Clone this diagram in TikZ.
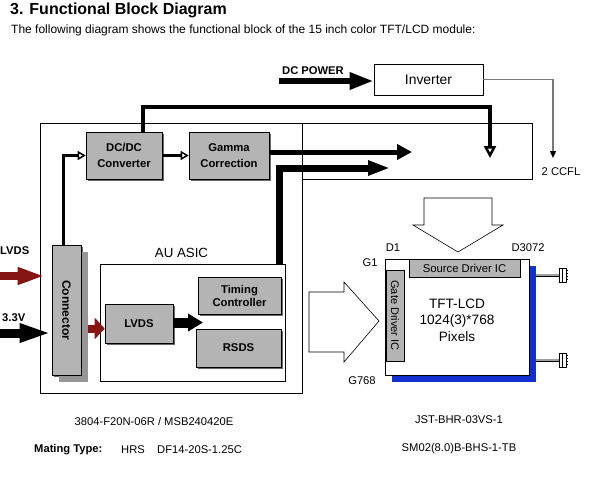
\documentclass[tikz,border=0pt]{standalone}
\usepackage{fontspec}
\setmainfont{Liberation Sans}
\usetikzlibrary{arrows.meta,shadows}
\usepackage{xcolor}
\definecolor{boxgray}{RGB}{180,180,180}
\definecolor{shadegray}{RGB}{105,105,105}
\definecolor{connshade}{RGB}{150,150,150}
\definecolor{lvdsred}{RGB}{135,20,20}
\definecolor{panelblue}{RGB}{18,48,205}
\definecolor{wiregray}{RGB}{120,120,120}

\begin{document}
\begin{tikzpicture}[x=1pt,y=-1pt,
  block/.style={draw=black,fill=boxgray,line width=0.6pt,inner sep=0pt,align=center,
    font=\fontsize{11.3}{16}\selectfont\bfseries,
    drop shadow={shadow xshift=2pt,shadow yshift=-2pt,fill=shadegray,opacity=1}},
  label11/.style={inner sep=0pt,font=\fontsize{11.2}{13}\selectfont},
  bold11/.style={inner sep=0pt,font=\fontsize{11.2}{13}\selectfont\bfseries}]
\useasboundingbox (0,0) rectangle (596,480);

% title
\node[anchor=base west,inner sep=0pt,font=\fontsize{16}{18}\selectfont\bfseries] (title) at (10,14) {3. Functional Block Diagram};
\node[anchor=base west,inner sep=0pt,font=\fontsize{12}{14}\selectfont] (subtitle) at (11,33) {The following diagram shows the functional block of the 15 inch color TFT/LCD module:};

% board and lamp frame
\node[draw,line width=0.6pt,minimum width=262pt,minimum height=270pt,inner sep=0pt] (board) at (171,258) {};
\draw[line width=0.6pt] (302,123) -- (532,123) -- (532,179) -- (302,179);
\coordinate (lampA) at (412,152);
\coordinate (lampB) at (390,168);
\coordinate (lampC) at (490,158);
\coordinate (ccfl) at (553,158);
\node[label11] (ccfltext) at (561,172) {2 CCFL};

% inverter
\node[draw,line width=0.6pt,minimum width=109pt,minimum height=31pt,inner sep=0pt,font=\fontsize{13.9}{16}\selectfont] (inv) at (428.5,79.5) {Inverter};
\coordinate (dcin) at (279,81);
\node[bold11,anchor=west] (dctext) at (282,71) {DC POWER};
\draw[line width=6pt,-{Triangle[length=24pt,width=16pt]}] (dcin) -- (dcin -| inv.west);
\draw[wiregray,line width=1.2pt,-{Triangle[length=7pt,width=6pt,color=black]}] (inv.east) -| (ccfl);

% blocks
\node[block,minimum width=76pt,minimum height=47pt] (dcdc) at (124,155.5) {DC/DC\\Converter};
\node[block,minimum width=80pt,minimum height=47pt] (gamma) at (229,155.5) {Gamma\\Correction};
\node[block,rotate=-90,minimum width=130pt,minimum height=29pt,font=\fontsize{12}{14}\selectfont\bfseries,
  drop shadow={shadow xshift=7pt,shadow yshift=-7pt,fill=connshade,opacity=1}] (conn) at (66.5,310) {Connector};
\node[draw,line width=0.6pt,fill=white,minimum width=185pt,minimum height=117pt,inner sep=0pt] (asic) at (192.5,322.5) {};
\node[inner sep=0pt,font=\fontsize{13.3}{15}\selectfont] (asictext) at (181.5,253) {AU ASIC};
\node[block,minimum width=68pt,minimum height=39pt] (lvdsbox) at (139,323.5) {LVDS};
\node[block,minimum width=83pt,minimum height=37pt,font=\fontsize{11.3}{13}\selectfont\bfseries] (timing) at (239.5,295.5) {Timing\\Controller};
\node[block,minimum width=85pt,minimum height=38pt] (rsds) at (238.5,348) {RSDS};

% power and data paths
\draw[line width=4pt,-{Triangle[open,length=12pt,width=12pt,line width=2.5pt]}] ([xshift=19pt]dcdc.north) -- ++(0,-25) -| (lampC);
\draw[line width=3pt,-{Triangle[open,length=8pt,width=9pt,line width=1.5pt]}] (dcdc.east) -- (gamma.west);
\draw[line width=3pt,-{Triangle[open,length=8pt,width=9pt,line width=1.5pt]}] ([xshift=-3.5pt]conn.west) |- (dcdc.west);
\draw[line width=5pt,-{Triangle[length=15pt,width=15pt]}] (gamma.east |- lampA) -- (lampA);
\draw[line width=7pt,-{Triangle[length=22pt,width=14pt]}] ([xshift=-6pt]asic.north east) |- (lampB);

% inputs
\coordinate (lvdsin) at (0,276);
\coordinate (pwrin) at (0,333);
\coordinate (redstart) at (88,328.5);
\coordinate (split) at (203,322.5);
\node[bold11,anchor=west] (lvdstext) at (0,251) {LVDS};
\node[bold11,anchor=west] (pwrtext) at (2,318) {3.3V};
\draw[lvdsred,line width=8pt,-{Triangle[length=27pt,width=16pt]}] (lvdsin) -- ([xshift=-7pt]lvdsin -| conn.south);
\draw[line width=9pt,-{Triangle[length=32pt,width=17pt]}] (pwrin) -- (pwrin -| conn.south);
\draw[lvdsred,line width=8pt,-{Triangle[length=10pt,width=21pt]}] (redstart) -- (redstart -| lvdsbox.west);
\draw[line width=10pt,-{Triangle[length=15pt,width=17pt]}] (lvdsbox.east |- split) -- (split);

% panel
\draw[line width=0.6pt,fill=white] (424,198) -- (492,198) -- (492,225) -- (503,225) -- (458,252) -- (413,225) -- (424,225) -- cycle;
\draw[line width=0.6pt,fill=white] (309,292) -- (344,292) -- (344,282) -- (379,321) -- (344,362) -- (344,352) -- (309,352) -- cycle;
\node[draw,line width=0.6pt,fill=white,minimum width=144pt,minimum height=116pt,inner sep=0pt,
  drop shadow={shadow xshift=7pt,shadow yshift=-7pt,fill=panelblue,opacity=1}] (panel) at (457,317) {};
\node[draw,line width=0.6pt,fill=boxgray,minimum width=111pt,minimum height=18pt,inner sep=0pt,font=\fontsize{11.3}{13}\selectfont] (src) at (464.5,268) {Source Driver IC};
\node[draw,line width=0.6pt,fill=boxgray,rotate=-90,minimum width=91pt,minimum height=18pt,inner sep=0pt,font=\fontsize{11}{13}\selectfont] (gate) at (395,315.5) {Gate Driver IC};
\node[inner sep=0pt,align=center,font=\fontsize{13.6}{16.5}\selectfont] (lcdtext) at (457,320) {TFT-LCD\\1024(3)*768\\Pixels};
\node[label11] (d1) at (393,248) {D1};
\node[label11] (d3072) at (528,248) {D3072};
\node[label11] (g1) at (370,263) {G1};
\node[label11] (g768) at (362,381) {G768};

% lamp plugs
\foreach \py in {275,360} {
  \draw[line width=0.5pt,double=wiregray!70,double distance=2pt] (536,\py) -- (559,\py);
  \draw[line width=0.6pt,fill=white] (559,\py-7) rectangle (566,\py+7);
  \draw[line width=0.5pt] (562,\py-7) -- (562,\py+7);
  \foreach \ty in {-4.5,-1.5,1.5,4.5} \draw[line width=0.5pt] (566,\py+\ty) -- (568,\py+\ty);
}

% connector part numbers
\node[label11] (connpn) at (154,421) {3804-F20N-06R / MSB240420E};
\node[bold11,anchor=west] (mating) at (34,450) {Mating Type:};
\node[label11,anchor=west] (hrs) at (121,450) {HRS};
\node[label11,anchor=west] (hrspn) at (157,450) {DF14-20S-1.25C};
\node[label11] (jst) at (459,420) {JST-BHR-03VS-1};
\node[label11] (smpn) at (459,449) {SM02(8.0)B-BHS-1-TB};
\end{tikzpicture}
\end{document}
